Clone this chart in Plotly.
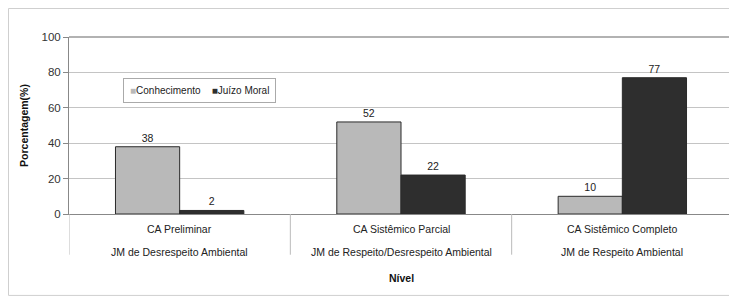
import plotly.graph_objects as go

categories = ["CA Preliminar", "CA Sistêmico Parcial", "CA Sistêmico Completo"]
subcategories = ["JM de Desrespeito Ambiental", "JM de Respeito/Desrespeito Ambiental", "JM de Respeito Ambiental"]
series_names = ["Conhecimento", "Juízo Moral"]
conhecimento = [38, 52, 10]
juizo_moral = [2, 22, 77]
y_ticks = [0, 20, 40, 60, 80, 100]

FONT = "Liberation Sans, Arial, sans-serif"
COLORS = ["#b9b9b9", "#2e2e2e"]

fig = go.Figure()
for name, vals, col in zip(series_names, [conhecimento, juizo_moral], COLORS):
    fig.add_trace(go.Bar(
        x=categories, y=vals, name=name,
        marker=dict(color=col, line=dict(color="#2a2a2a", width=1)),
        text=[str(v) for v in vals], textposition="outside",
        textfont=dict(size=10.5, color="#222222", family=FONT), cliponaxis=False,
        showlegend=False,
    ))

shapes = []
# outer frame
shapes.append(dict(type="rect", xref="paper", yref="paper", x0=-0.0911, x1=1.0045,
                   y0=-0.46, y1=1.161, line=dict(color="#cfcfcf", width=1), layer="below"))
# plot right border / top border
shapes.append(dict(type="line", xref="paper", yref="paper", x0=1, x1=1, y0=0, y1=1,
                   line=dict(color="#c8c8c8", width=1)))
shapes.append(dict(type="line", xref="paper", yref="paper", x0=0, x1=1, y0=1, y1=1,
                   line=dict(color="#999999", width=1.5)))
# category separators
for i in range(len(categories) + 1):
    shapes.append(dict(type="line", xref="x", yref="paper", x0=i - 0.5, x1=i - 0.5,
                       y0=0, y1=-0.23, line=dict(color="#bbbbbb", width=1)))

annotations = []
for i, (c, s) in enumerate(zip(categories, subcategories)):
    annotations.append(dict(x=i, y=-0.085, xref="x", yref="paper", text=c, showarrow=False,
                            font=dict(size=10.5, color="#222222", family=FONT), yanchor="middle"))
    annotations.append(dict(x=i, y=-0.215, xref="x", yref="paper", text=s, showarrow=False,
                            font=dict(size=10.5, color="#222222", family=FONT), yanchor="middle"))
annotations.append(dict(x=0.5, y=-0.36, xref="paper", yref="paper", text="<b>Nível</b>",
                        showarrow=False, font=dict(size=10.5, color="#111111", family=FONT),
                        yanchor="middle"))
# legend box
legend_text = "&nbsp;&nbsp;&nbsp;&nbsp;".join(
    f"<span style='color:{col}'>■</span>{name}" for name, col in zip(series_names, COLORS)
)
annotations.append(dict(x=0.081, y=0.768, xref="paper", yref="paper", text=legend_text,
                        showarrow=False, xanchor="left", yanchor="top",
                        font=dict(size=10, color="#222222", family=FONT),
                        bordercolor="#aaaaaa", borderwidth=1, borderpad=6, bgcolor="white"))

fig.update_layout(
    width=729, height=290,
    margin=dict(l=61, r=4, t=29, b=84, autoexpand=False),
    paper_bgcolor="white", plot_bgcolor="white",
    barmode="group", bargap=0.42, bargroupgap=0,
    font=dict(family=FONT, size=10, color="#222222"),
    showlegend=False,
    xaxis=dict(type="category", range=[-0.5, 2.5], showticklabels=False, ticks="",
               showline=True, linecolor="#888888", linewidth=1, showgrid=False, zeroline=False,
               automargin=False),
    yaxis=dict(range=[0, 100], tickvals=y_ticks, ticks="outside", ticklen=5, tickcolor="#888888",
               showline=True, linecolor="#888888", linewidth=1,
               showgrid=True, gridcolor="#c4c4c4", gridwidth=1, zeroline=False,
               tickfont=dict(size=11.5, color="#333333", family=FONT), automargin=False,
               title=dict(text="<b>Porcentagem(%)</b>", font=dict(size=10.5, color="#111111", family=FONT),
                          standoff=10)),
    shapes=shapes, annotations=annotations,
)

fig.write_html("out.html")
